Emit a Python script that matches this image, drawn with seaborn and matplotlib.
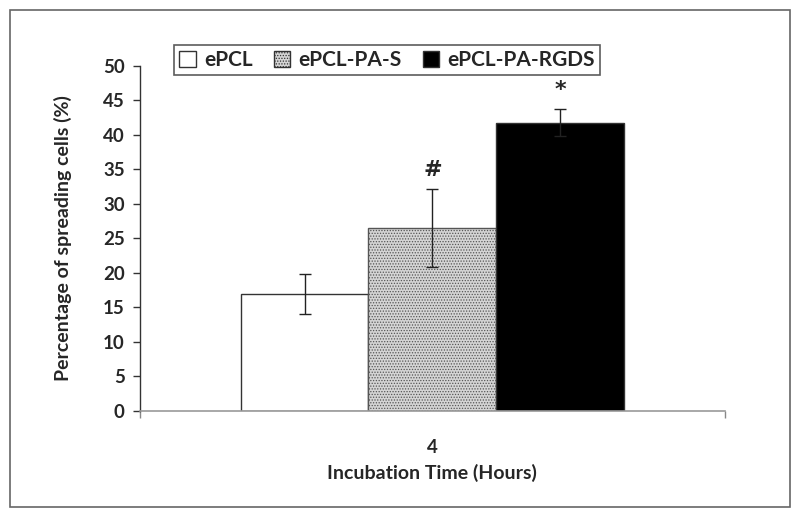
import numpy as np
import pandas as pd
import matplotlib
matplotlib.use('Agg')
import matplotlib.pyplot as plt
from matplotlib.patches import Patch, Rectangle
import seaborn as sns

sns.set_style("white")
plt.rcParams['font.family'] = ['Lato', 'DejaVu Sans']
plt.rcParams['hatch.linewidth'] = 0.6

# data
groups = ['ePCL', 'ePCL-PA-S', 'ePCL-PA-RGDS']
times = ['4', '4', '4']
means = [17.0, 26.5, 41.8]
errors = [2.9, 5.6, 2.0]
marks = ['', '#', '*']

face_colors = ['white', '#d4d4d4', 'black']
hatches = [None, '......', None]

df = pd.DataFrame({'time': times, 'group': groups, 'value': means})

fig = plt.figure(figsize=(8, 5.15), dpi=100)
ax = fig.add_axes([0.175, 0.202, 0.731, 0.670])

sns.barplot(data=df, x='time', y='value', hue='group', hue_order=groups,
            palette=face_colors, errorbar=None, width=0.656, legend=False,
            edgecolor='#333333', linewidth=1.0, ax=ax, saturation=1)

for cont, hatch, err, mark in zip(ax.containers, hatches, errors, marks):
    for bar in cont:
        if hatch:
            bar.set_hatch(hatch)
            bar.set_edgecolor('#555555')
        xc = bar.get_x() + bar.get_width() / 2
        h = bar.get_height()
        ax.errorbar(xc, h, yerr=err, fmt='none', ecolor='#222222',
                    elinewidth=1.0, capsize=4, capthick=1.0, zorder=5)
        if mark:
            ax.text(xc, h + err + 1.3, mark, ha='center', va='bottom',
                    fontsize=16, fontweight='bold', family='DejaVu Sans')

ax.set_ylim(0, 50)
ax.set_xlim(-0.5, 0.5)
ax.set_yticks(np.arange(0, 51, 5))
ax.tick_params(axis='y', which='major', direction='out', length=5, left=True,
               width=1, color='#333333', labelsize=13.5, pad=6)
ax.tick_params(axis='x', which='major', length=0, labelsize=13.5, pad=20)
ax.set_xticks([-0.5, 0.5], minor=True)
ax.tick_params(axis='x', which='minor', direction='out', length=5, bottom=True,
               width=1, color='#888888')
for lab in ax.get_yticklabels() + ax.get_xticklabels():
    lab.set_fontweight('bold')

for s in ['top', 'right']:
    ax.spines[s].set_visible(False)
ax.spines['left'].set_color('#333333')
ax.spines['bottom'].set_color('#999999')
ax.spines['left'].set_linewidth(1.0)
ax.spines['bottom'].set_linewidth(1.2)

ax.set_xlabel('Incubation Time (Hours)', fontsize=14, fontweight='bold', labelpad=6)
ax.set_ylabel('Percentage of spreading cells (%)', fontsize=14, fontweight='bold', labelpad=22)

handles = [Patch(facecolor=c, edgecolor='#333333', hatch=h, label=g)
           for c, h, g in zip(face_colors, hatches, groups)]
leg = fig.legend(handles=handles, loc='center', bbox_to_anchor=(0.484, 0.883),
                 ncol=3, frameon=True, fancybox=False,
                 prop={'weight': 'bold', 'size': 15}, handlelength=0.8,
                 handleheight=0.8, handletextpad=0.4, columnspacing=1.0,
                 borderpad=0.25, edgecolor='#333333')
leg.get_frame().set_linewidth(1.2)

fig.patches.append(Rectangle((0.0125, 0.0155), 0.975, 0.965, transform=fig.transFigure,
                             fill=False, edgecolor='#666666', linewidth=1.2))

fig.savefig('out.png', dpi=100)
